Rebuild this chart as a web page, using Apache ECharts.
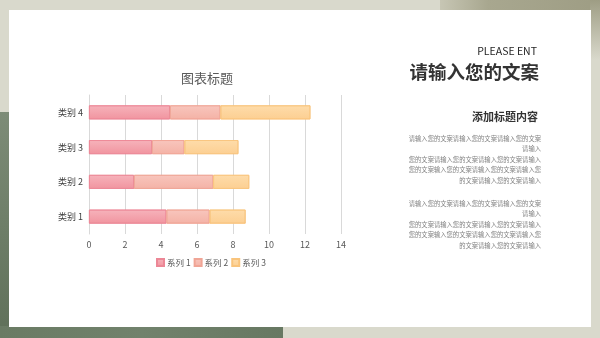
<!DOCTYPE html>
<html>
<head>
<meta charset="utf-8">
<script src="https://cdn.jsdelivr.net/npm/echarts@6/dist/echarts.min.js"></script>
<style>
  html, body { margin: 0; padding: 0; background: #d9d9cc; }
  #main { width: 600px; height: 338px; }
</style>
</head>
<body>
<div id="main"></div>
<script>
// 数据
const categories = ["类别 1", "类别 2", "类别 3", "类别 4"];
const seriesNames = ["系列 1", "系列 2", "系列 3"];
const series1 = [4.3, 2.5, 3.5, 4.5];
const series2 = [2.4, 4.4, 1.8, 2.8];
const series3 = [2, 2, 3, 5];
const xTicks = { min: 0, max: 14, interval: 2 };

const paragraph = [
  "请输入您的文案请输入您的文案请输入您的文案",
  "请输入",
  "您的文案请输入您的文案请输入您的文案请输入",
  "您的文案输入您的文案请输入您的文案请输入您",
  "的文案请输入您的文案请输入"
];

const FONT = '"Noto Sans CJK SC", "Noto Sans", sans-serif';

const grad = (c1, c2) =>
  new echarts.graphic.LinearGradient(0, 0, 0, 1, [
    { offset: 0, color: c1 },
    { offset: 1, color: c2 }
  ]);

// 右侧文字
const textGraphics = [];
const para = (startY) => {
  paragraph.forEach((line, i) => {
    textGraphics.push({
      type: "text",
      right: 600 - 541,
      top: startY + i * 10.6,
      style: {
        text: line,
        fill: "#808080",
        font: "6.3px " + FONT,
        textAlign: "right"
      }
    });
  });
};
para(135);
para(200);

const myChart = echarts.init(document.getElementById("main"));
myChart.setOption({
  backgroundColor: "#d9d9cc",
  textStyle: { fontFamily: FONT },
  title: {
    text: "图表标题",
    left: 202,
    top: 67,
    textAlign: "center",
    textStyle: { fontSize: 13, fontWeight: "normal", color: "#595959" }
  },
  legend: {
    data: seriesNames,
    left: 151,
    top: 253,
    itemWidth: 7,
    itemHeight: 7,
    itemGap: 3,
    icon: "rect",
    textStyle: { fontSize: 8.5, color: "#595959", padding: [0, 0, 0, -2] }
  },
  grid: { left: 89, right: 259, top: 95, height: 139 },
  xAxis: {
    type: "value",
    min: xTicks.min,
    max: xTicks.max,
    interval: xTicks.interval,
    axisLine: { show: false },
    axisTick: { show: false },
    axisLabel: { fontSize: 9, color: "#595959", margin: 6 },
    splitLine: { lineStyle: { color: "#d9d9d9" } }
  },
  yAxis: {
    type: "category",
    data: categories,
    axisLine: { show: true, lineStyle: { color: "#d9d9d9" } },
    axisTick: { show: false },
    axisLabel: { fontSize: 9, color: "#404040", margin: 6 }
  },
  graphic: [
    // 背景装饰
    {
      type: "rect", z: -10, silent: true,
      shape: { x: 0, y: 112, width: 10, height: 226 },
      style: { fill: grad("#7d8c77", "#5f7059") }
    },
    {
      type: "rect", z: -10, silent: true,
      shape: { x: 0, y: 326, width: 283, height: 12 },
      style: { fill: new echarts.graphic.LinearGradient(0, 0, 1, 0, [
        { offset: 0, color: "#6a7b64" },
        { offset: 0.5, color: "#71826c" },
        { offset: 1, color: "#677862" }
      ]) }
    },
    {
      type: "rect", z: -10, silent: true,
      shape: { x: 440, y: 0, width: 160, height: 11 },
      style: { fill: new echarts.graphic.LinearGradient(0, 0, 1, 0, [
        { offset: 0, color: "#c7c6b4" },
        { offset: 0.3, color: "#a8a78f" },
        { offset: 1, color: "#9e9d84" }
      ]) }
    },
    {
      type: "rect", z: -10, silent: true,
      shape: { x: 590, y: 0, width: 10, height: 60 },
      style: { fill: grad("#9e9d84", "#d9d9cc") }
    },
    // 白色卡片
    {
      type: "rect", z: -5, silent: true,
      shape: { x: 9, y: 10, width: 582, height: 317 },
      style: { fill: "#ffffff" }
    },
    {
      type: "text",
      right: 600 - 537,
      top: 46,
      style: {
        text: "PLEASE ENT",
        fill: "#262626",
        font: "10.5px " + FONT,
        textAlign: "right"
      }
    },
    {
      type: "text",
      right: 600 - 539,
      top: 63,
      style: {
        text: "请输入您的文案",
        fill: "#333333",
        font: "bold 18.5px " + FONT,
        textAlign: "right"
      }
    },
    {
      type: "text",
      right: 600 - 538,
      top: 111,
      style: {
        text: "添加标题内容",
        fill: "#333333",
        font: "bold 11px " + FONT,
        textAlign: "right"
      }
    },
    ...textGraphics
  ],
  series: [
    {
      name: seriesNames[0],
      type: "bar",
      stack: "total",
      barWidth: 14,
      itemStyle: {
        color: grad("#f6b3bb", "#f1949f"),
        borderColor: "#ec8796",
        borderWidth: 0.8
      },
      data: series1
    },
    {
      name: seriesNames[1],
      type: "bar",
      stack: "total",
      barWidth: 14,
      itemStyle: {
        color: grad("#f8c6bd", "#f4b2a6"),
        borderColor: "#f0a596",
        borderWidth: 0.8
      },
      data: series2
    },
    {
      name: seriesNames[2],
      type: "bar",
      stack: "total",
      barWidth: 14,
      itemStyle: {
        color: grad("#fedcaa", "#fccf92"),
        borderColor: "#f9c47c",
        borderWidth: 0.8
      },
      data: series3
    }
  ]
});
</script>
</body>
</html>
